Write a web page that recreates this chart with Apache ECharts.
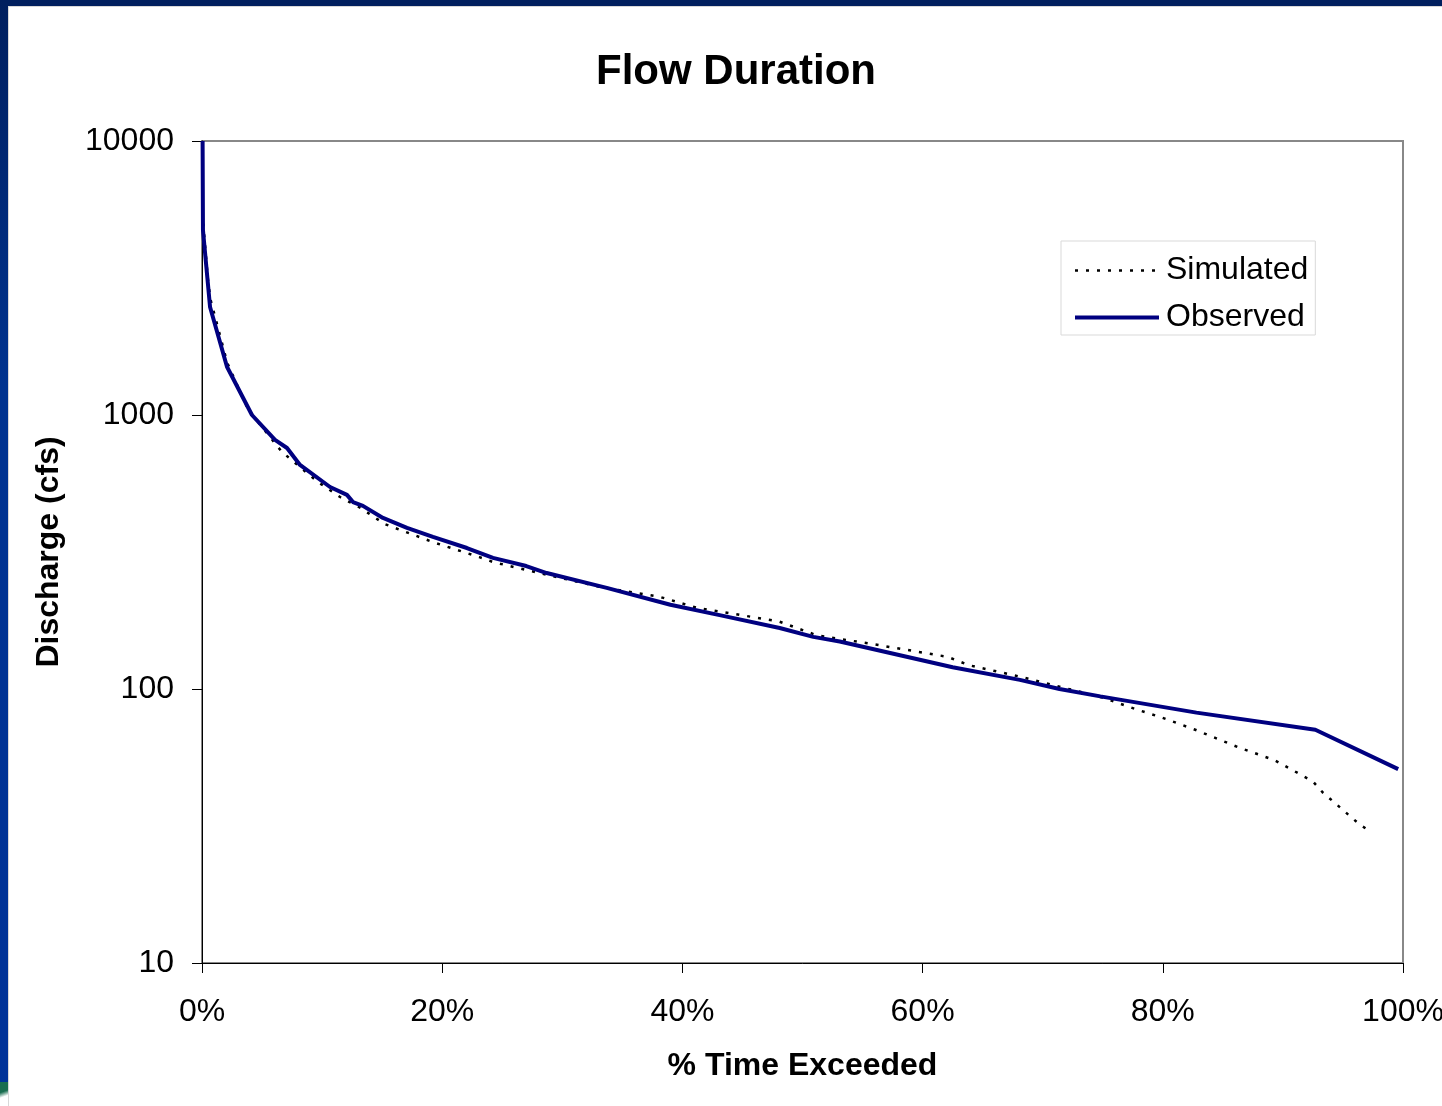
<!DOCTYPE html>
<html>
<head>
<meta charset="utf-8">
<script src="https://cdn.jsdelivr.net/npm/echarts@6/dist/echarts.min.js"></script>
<style>
  html, body { margin: 0; padding: 0; background: #fff; }
  #frame { position: absolute; left: 0; top: 0; width: 1442px; height: 1106px; overflow: hidden; background: #fff; }
  #topband { position: absolute; left: 0; top: 0; width: 1442px; height: 6px; background: #001f5e; }
  #leftband { position: absolute; left: 0; top: 0; width: 8px; height: 1106px; background: linear-gradient(to bottom, #001f5e 0%, #00338f 35%, #003399 100%); }
  #edge { position: absolute; left: 8px; top: 6px; width: 1434px; height: 1100px; border-left: 1px solid #d8d8d8; border-top: 1px solid #d8d8d8; box-sizing: border-box; }
  #green { position: absolute; left: 0; top: 1082px; width: 8px; height: 24px; background: linear-gradient(160deg, #1a6e50 0%, #1a6e50 40%, #ffffff 60%); }
  #chart { position: absolute; left: 0; top: 0; width: 1442px; height: 1106px; }
</style>
</head>
<body>
<div id="frame">
  <div id="topband"></div>
  <div id="leftband"></div>
  <div id="green"></div>
  <div id="edge"></div>
  <div id="chart"></div>
</div>
<script>
// % time exceeded (x) and discharge in cfs (y)
const observedPct = [0.05, 0.08, 0.67, 2.08, 4.16, 6.08, 7.08, 8.16, 10.66, 12.07, 12.57, 13.4, 15.07, 17.07, 19.23, 22.06, 24.23, 27.0, 28.7, 33.7, 39.0, 43.1, 48.1, 50.9, 53.1, 62.5, 68.1, 71.4, 74.8, 82.8, 92.7, 99.6];
const observedCfs = [10000, 4730, 2480, 1500, 1000, 811, 758, 657, 546, 511, 481, 466, 421, 387, 359, 327, 301, 281, 265, 234, 203, 186, 167, 155, 149, 120, 108, 100, 94, 82, 71, 51];

const simulatedPct = [0.1, 0.5, 0.7, 2.1, 3.7, 4.2, 6.66, 8.16, 9.66, 11.5, 13.2, 15.2, 19.2, 23.1, 24.2, 26.2, 28.1, 33.1, 38.1, 41.2, 46.2, 48.1, 51.2, 56.2, 62.1, 63.9, 68.1, 75.0, 77.9, 79.8, 82.7, 86.4, 89.3, 92.5, 93.3, 96.4, 97.4];
const simulatedCfs = [5000, 3100, 2650, 1550, 1080, 1000, 733, 646, 569, 502, 458, 400, 344, 303, 291, 277, 265, 236, 217, 198, 182, 176, 157, 145, 131, 122, 111, 93, 84, 79, 71, 61, 55, 46, 42, 32, 30];

const xTicks = [0, 20, 40, 60, 80, 100];
const yTicks = [10, 100, 1000, 10000];

const seriesNames = ['Simulated', 'Observed'];

function pairs(xs, ys) { return xs.map((x, i) => [x, ys[i]]); }

const chart = echarts.init(document.getElementById('chart'), null, { renderer: 'canvas' });
const font = '"Liberation Sans", Arial, sans-serif';

const simLine = { color: '#000', width: 2.5, type: [3, 8] };
const obsLine = { color: '#000080', width: 4 };

chart.setOption({
  backgroundColor: 'transparent',
  animation: false,
  textStyle: { fontFamily: font, color: '#000' },
  title: {
    text: 'Flow Duration',
    left: 591,
    top: 46,
    textStyle: { fontFamily: font, fontSize: 42, fontWeight: 'bold', color: '#000' }
  },
  legend: {
    data: [
      { name: seriesNames[0], itemStyle: { opacity: 0 }, lineStyle: simLine },
      { name: seriesNames[1], itemStyle: { opacity: 0 }, lineStyle: obsLine }
    ],
    orient: 'vertical',
    left: 1061,
    top: 241,
    padding: [12, 7, 0, 12],
    itemWidth: 84,
    itemHeight: 14,
    itemGap: 12,
    backgroundColor: '#fff',
    borderColor: '#d9d9d9',
    borderWidth: 1,
    borderRadius: 0,
    textStyle: { fontFamily: font, fontSize: 32, color: '#000', lineHeight: 35, padding: [0, 0, 0, 2] }
  },
  grid: {
    left: 202, top: 141, width: 1201, height: 822,
    outerBoundsMode: 'none',
    containLabel: false,
    show: true, borderColor: '#888', borderWidth: 2, backgroundColor: '#fff'
  },
  xAxis: {
    type: 'value',
    min: 0, max: 100, interval: 20,
    name: '% Time Exceeded',
    nameLocation: 'middle',
    nameGap: 87,
    nameTextStyle: { fontFamily: font, fontSize: 32, fontWeight: 'bold', color: '#000' },
    axisLine: { show: true, onZero: false, lineStyle: { color: '#000', width: 1 } },
    axisTick: { show: true, inside: false, length: 10, lineStyle: { color: '#000', width: 1 } },
    axisLabel: {
      fontFamily: font, fontSize: 32, color: '#000', margin: 33,
      formatter: function (v) { return xTicks.indexOf(v) >= 0 ? v + '%' : ''; }
    },
    splitLine: { show: false }
  },
  yAxis: {
    type: 'log',
    logBase: 10,
    min: yTicks[0], max: yTicks[yTicks.length - 1],
    name: 'Discharge (cfs)',
    nameLocation: 'middle',
    nameGap: 137,
    nameRotate: 90,
    nameTextStyle: { fontFamily: font, fontSize: 32, fontWeight: 'bold', color: '#000' },
    axisLine: { show: true, lineStyle: { color: '#000', width: 1 } },
    axisTick: { show: true, inside: false, length: 10, lineStyle: { color: '#000', width: 1 } },
    minorTick: { show: false },
    axisLabel: {
      fontFamily: font, fontSize: 32, color: '#000', margin: 28,
      formatter: function (v) { return String(Math.round(v)); }
    },
    splitLine: { show: false }
  },
  series: [
    {
      name: seriesNames[0],
      type: 'line',
      data: pairs(simulatedPct, simulatedCfs),
      symbol: 'none',
      showSymbol: false,
      clip: true,
      lineStyle: simLine,
      itemStyle: { color: '#000' },
      z: 2
    },
    {
      name: seriesNames[1],
      type: 'line',
      data: pairs(observedPct, observedCfs),
      symbol: 'none',
      showSymbol: false,
      clip: true,
      lineStyle: obsLine,
      itemStyle: { color: '#000080' },
      z: 3
    }
  ]
});
</script>
</body>
</html>
